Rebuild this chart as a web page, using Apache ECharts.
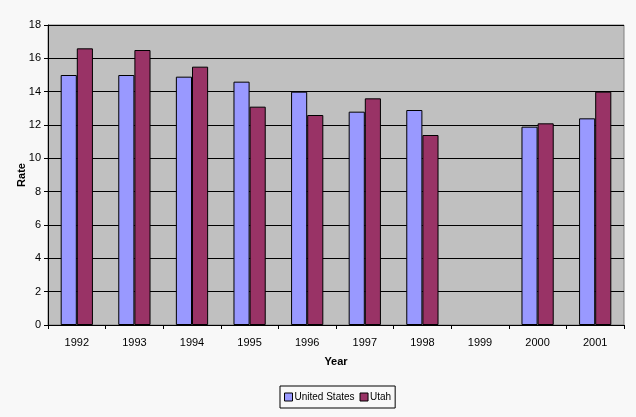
<html>
<head>
    <meta charset="utf-8" />
    <title>Rate by Year</title>
    <script src="https://cdn.jsdelivr.net/npm/echarts@6/dist/echarts.min.js"></script>
    <style>
        html, body { margin: 0; padding: 0; background: #f8f8f8; }
        #chart { width: 636px; height: 417px; }
    </style>
</head>
<body>
<div id="chart"></div>
<script>
    // values
    const years = ['1992', '1993', '1994', '1995', '1996', '1997', '1998', '1999', '2000', '2001'];
    const unitedStates = [15.0, 15.0, 14.9, 14.6, 14.0, 12.8, 12.9, null, 11.9, 12.4];
    const utah = [16.6, 16.5, 15.5, 13.1, 12.6, 13.6, 11.4, null, 12.1, 14.0];

    const font = 'Liberation Sans, Arial, sans-serif';

    let chart = echarts.init(document.getElementById('chart'));

    chart.setOption({
        backgroundColor: '#f8f8f8',
        animation: false,
        grid: {
            left: 48,
            right: 12,
            top: 25,
            bottom: 92,
            show: true,
            backgroundColor: '#c0c0c0',
            borderColor: '#808080',
            borderWidth: 1
        },
        legend: {
            bottom: 9,
            left: 280,
            icon: 'rect',
            itemWidth: 8,
            itemHeight: 8,
            itemGap: 5,
            borderColor: '#000',
            borderWidth: 1,
            borderRadius: 0,
            padding: [6, 4, 6, 4],
            textStyle: { fontFamily: font, fontSize: 10, color: '#000', padding: [0, 0, 0, -3] },
            data: [
                { name: 'United States', itemStyle: { borderColor: '#000', borderWidth: 1 } },
                { name: 'Utah', itemStyle: { borderColor: '#000', borderWidth: 1 } }
            ]
        },
        xAxis: {
            type: 'category',
            data: years,
            name: 'Year',
            nameLocation: 'middle',
            nameGap: 31,
            nameMoveOverlap: false,
            nameTextStyle: { fontFamily: font, fontSize: 11, fontWeight: 'bold', color: '#000' },
            axisLine: { lineStyle: { color: '#000', width: 1 } },
            axisTick: { show: true, length: 4, lineStyle: { color: '#000' } },
            axisLabel: { fontFamily: font, fontSize: 11, color: '#000', margin: 12 },
            splitLine: { show: false }
        },
        yAxis: {
            type: 'value',
            min: 0,
            max: 18,
            interval: 2,
            name: 'Rate',
            nameLocation: 'middle',
            nameGap: 21,
            nameMoveOverlap: false,
            nameRotate: 90,
            nameTextStyle: { fontFamily: font, fontSize: 11, fontWeight: 'bold', color: '#000' },
            axisLine: { show: true, lineStyle: { color: '#000', width: 1 } },
            axisTick: { show: true, length: 4, lineStyle: { color: '#000' } },
            axisLabel: { fontFamily: font, fontSize: 11, color: '#000', margin: 7 },
            splitLine: { show: true, lineStyle: { color: '#000', width: 1 } }
        },
        series: [
            {
                name: 'United States',
                type: 'bar',
                data: unitedStates,
                barGap: '0%',
                barCategoryGap: '44%',
                itemStyle: { color: '#9999ff', borderColor: '#000', borderWidth: 1 }
            },
            {
                name: 'Utah',
                type: 'bar',
                data: utah,
                itemStyle: { color: '#993366', borderColor: '#000', borderWidth: 1 }
            }
        ]
    });
</script>
</body>
</html>
